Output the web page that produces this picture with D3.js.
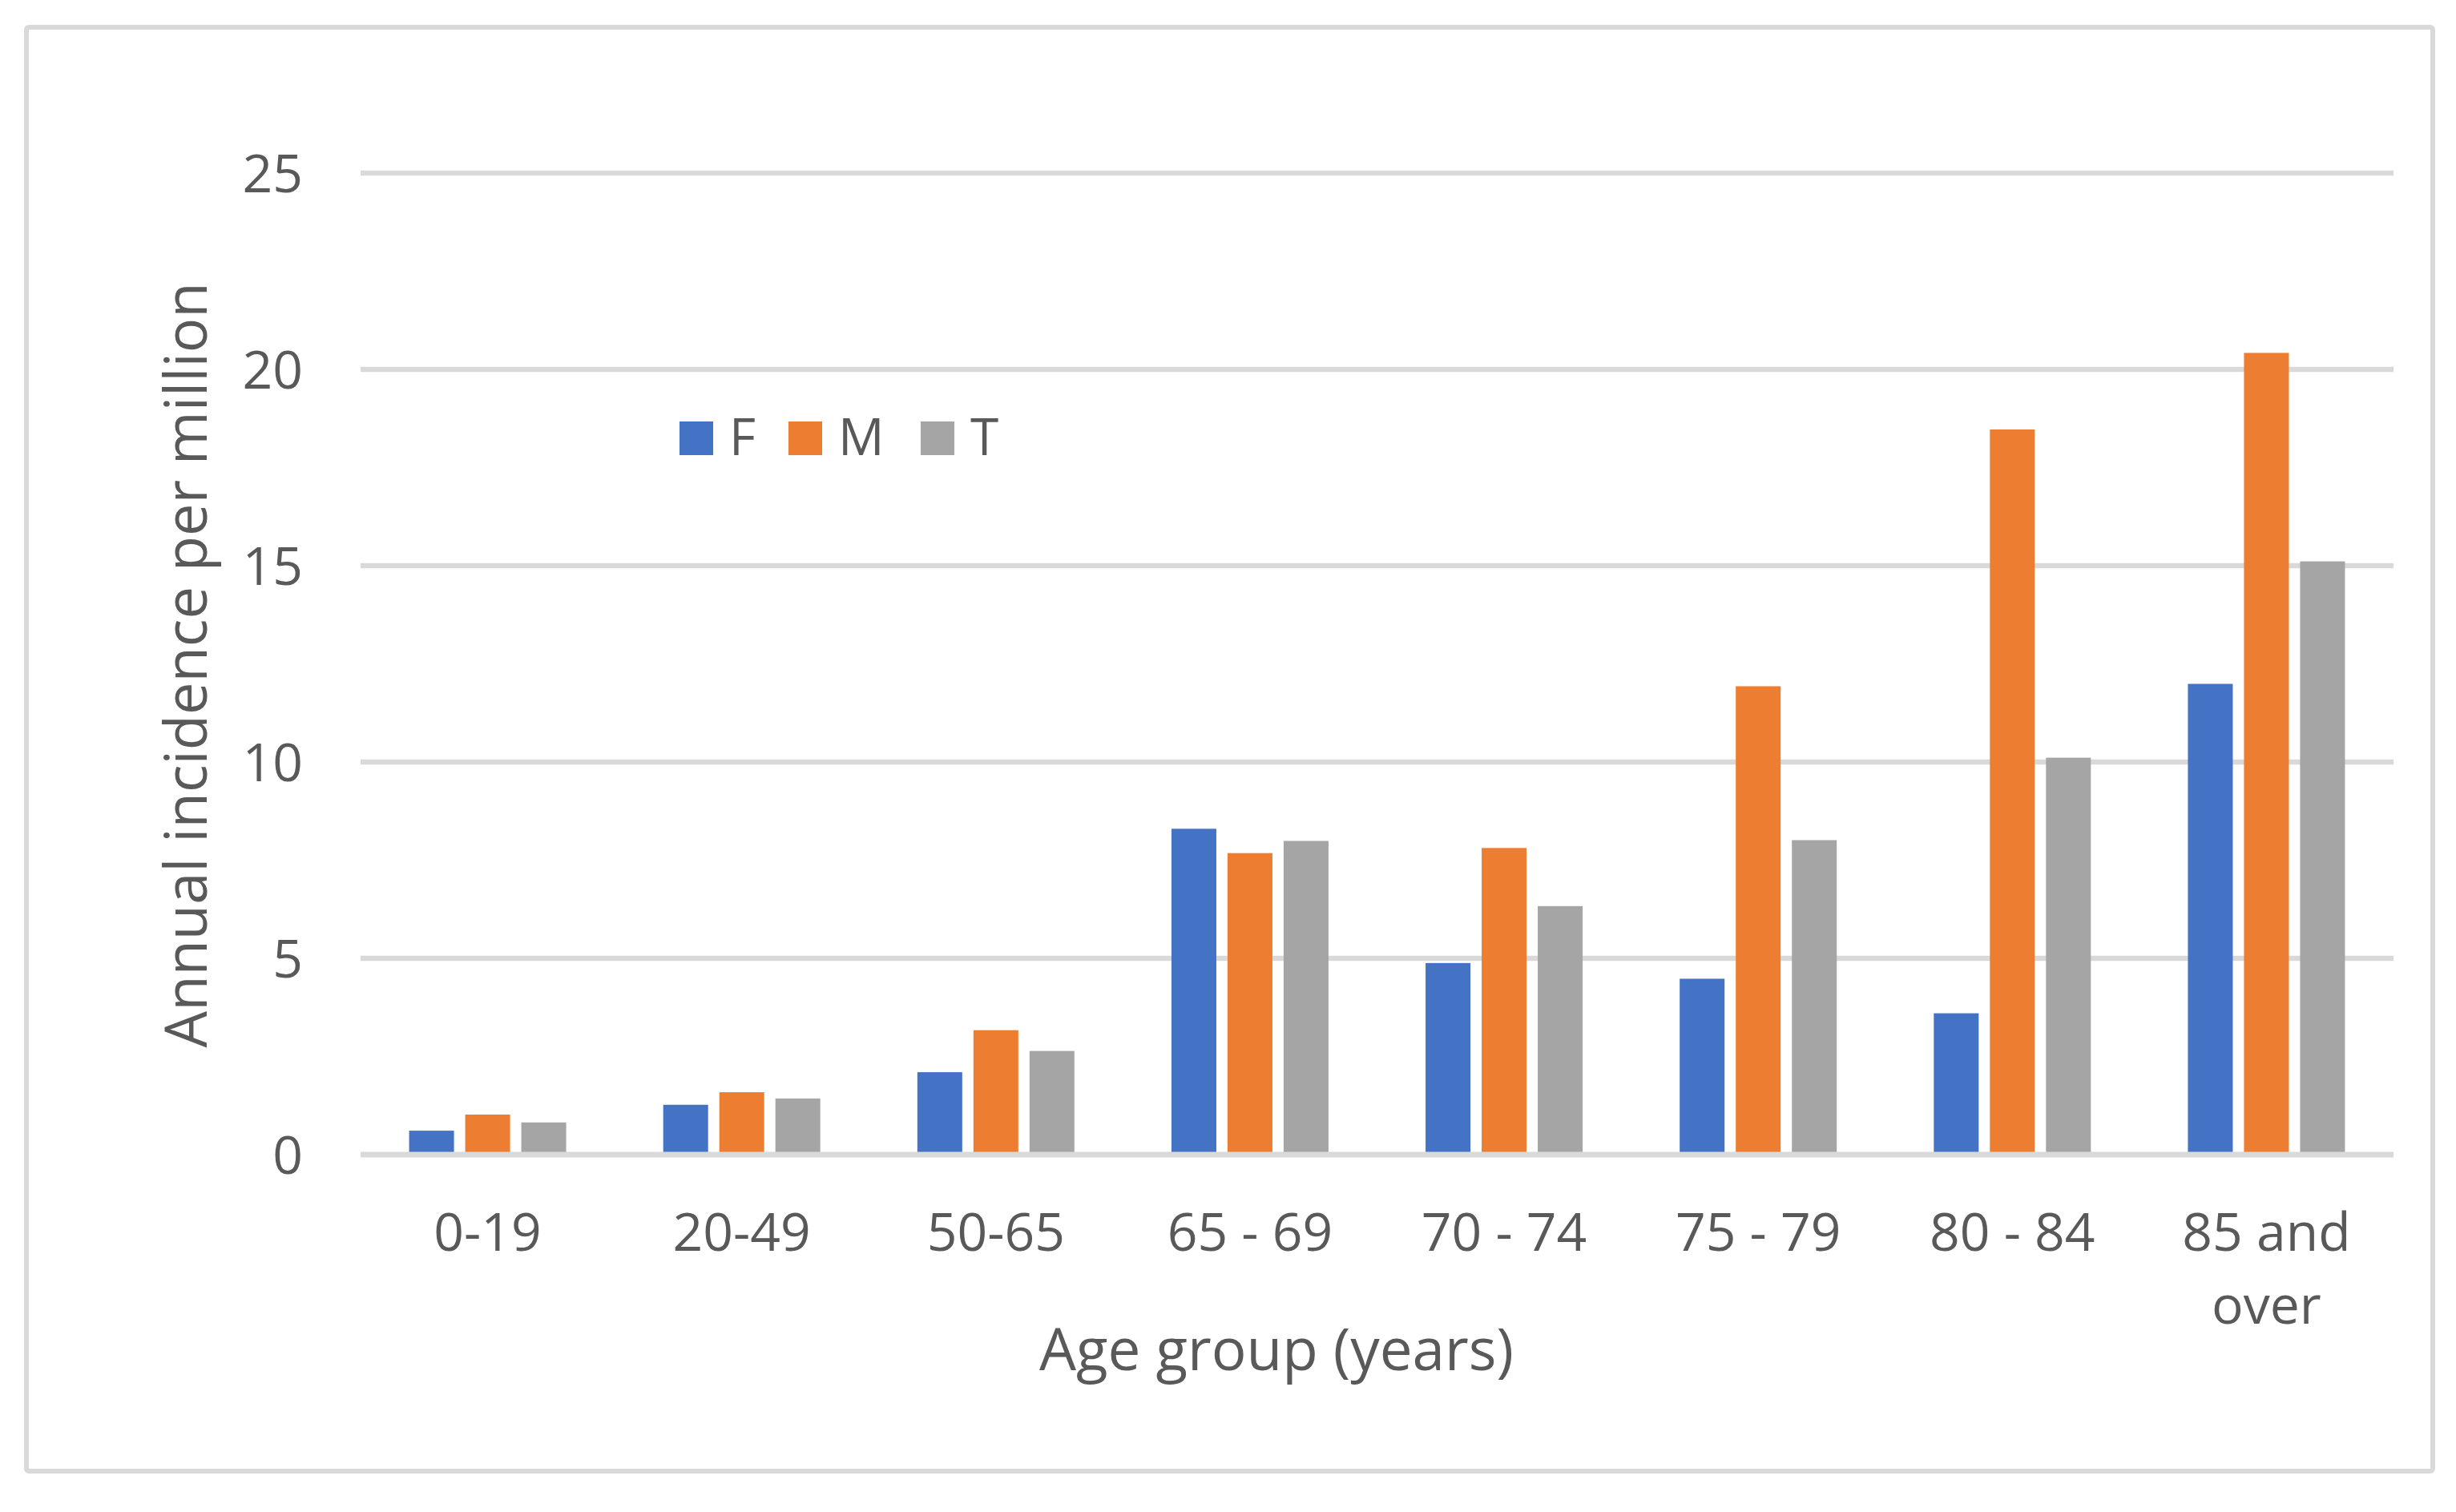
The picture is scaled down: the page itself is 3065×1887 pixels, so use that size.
<!DOCTYPE html>
<html>
<head>
<meta charset="utf-8">
<script src="https://cdn.jsdelivr.net/npm/d3@7"></script>
<style>
  html, body { margin: 0; padding: 0; background: #ffffff; }
  text { font-family: "Open Sans", "Noto Sans", sans-serif; fill: #595959; }
</style>
</head>
<body>
<svg id="chart" width="3065" height="1887"></svg>
<script>
// ---- data ----
const categories = ["0-19", "20-49", "50-65", "65 - 69", "70 - 74", "75 - 79", "80 - 84", "85 and over"];
const seriesNames = ["F", "M", "T"];
const valuesF = [0.61, 1.27, 2.10, 8.30, 4.88, 4.48, 3.60, 11.99];
const valuesM = [1.02, 1.59, 3.17, 7.68, 7.81, 11.93, 18.47, 20.42];
const valuesT = [0.82, 1.43, 2.64, 7.99, 6.33, 8.01, 10.11, 15.11];
const yTicks = [0, 5, 10, 15, 20, 25];
const xTitle = "Age group (years)";
const yTitle = "Annual incidence per million";

const colors = { F: "#4472c4", M: "#ed7d31", T: "#a5a5a5" };
const seriesValues = { F: valuesF, M: valuesM, T: valuesT };

const svg = d3.select("#chart");
const W = 3065, H = 1887;
svg.append("rect").attr("width", W).attr("height", H).attr("fill", "#ffffff");

// outer border
svg.append("rect")
  .attr("x", 33).attr("y", 34).attr("width", 3003).attr("height", 1802)
  .attr("rx", 3)
  .attr("fill", "none").attr("stroke", "#d9d9d9").attr("stroke-width", 6);

const plot = { left: 450, right: 2987, top: 216, bottom: 1441 };

const y = d3.scaleLinear().domain([0, 25]).range([plot.bottom, plot.top]);
const x0 = d3.scaleBand().domain(categories).range([plot.left, plot.right])
  .paddingInner(0.382).paddingOuter(0.191);
const x1 = d3.scaleBand().domain(seriesNames).range([0, x0.bandwidth()])
  .paddingInner(0.2).paddingOuter(0);

// gridlines
svg.append("g").selectAll("line").data(yTicks.filter(d => d !== 0)).join("line")
  .attr("x1", plot.left).attr("x2", plot.right)
  .attr("y1", d => y(d)).attr("y2", d => y(d))
  .attr("stroke", "#d9d9d9").attr("stroke-width", 6.5);

// y tick labels
svg.append("g").selectAll("text").data(yTicks).join("text")
  .attr("x", 378).attr("y", d => y(d)).attr("dy", "0.36em")
  .attr("text-anchor", "end").attr("font-size", 66)
  .text(d => d);

// bars
const rows = categories.map((c, i) => ({ cat: c, vals: seriesNames.map(s => ({ s, v: seriesValues[s][i] })) }));
const groups = svg.append("g").selectAll("g").data(rows).join("g")
  .attr("transform", d => `translate(${x0(d.cat)},0)`);
groups.selectAll("rect").data(d => d.vals).join("rect")
  .attr("x", d => x1(d.s)).attr("width", x1.bandwidth())
  .attr("y", d => y(d.v)).attr("height", d => y(0) - y(d.v))
  .attr("fill", d => colors[d.s]);

// baseline axis line
svg.append("line")
  .attr("x1", plot.left).attr("x2", plot.right)
  .attr("y1", y(0)).attr("y2", y(0))
  .attr("stroke", "#d9d9d9").attr("stroke-width", 7);

// x tick labels (wrapped)
const xLabelLines = { "85 and over": ["85 and", "over"] };
const xl = svg.append("g").selectAll("text").data(categories).join("text")
  .attr("x", d => x0(d) + x0.bandwidth() / 2)
  .attr("y", 1561)
  .attr("text-anchor", "middle").attr("font-size", 66);
xl.each(function(d) {
  const lines = xLabelLines[d] || [d];
  const t = d3.select(this);
  lines.forEach((ln, i) => {
    t.append("tspan").attr("x", x0(d) + x0.bandwidth() / 2).attr("dy", i === 0 ? 0 : 91).text(ln);
  });
});

// axis titles
function fitText(sel, target) {
  const len = sel.node().getComputedTextLength();
  const fs = +sel.attr("font-size");
  sel.attr("font-size", fs * target / len);
}
const xt = svg.append("text")
  .attr("x", 1593).attr("y", 1710).attr("text-anchor", "middle")
  .attr("font-size", 72).text(xTitle);
fitText(xt, 592);

const yt = svg.append("text")
  .attr("transform", "translate(258,830) rotate(-90)")
  .attr("text-anchor", "middle").attr("font-size", 72).text(yTitle);
fitText(yt, 955);

// legend (item left edges follow the reference layout)
const legendX = [848, 984, 1149];
const legend = svg.append("g");
seriesNames.forEach((s, i) => {
  const lx = legendX[i];
  legend.append("rect").attr("x", lx).attr("y", 526).attr("width", 42).attr("height", 42).attr("fill", colors[s]);
  legend.append("text").attr("x", lx + 42 + 20).attr("y", 568).attr("font-size", 64).text(s);
});
</script>
</body>
</html>
